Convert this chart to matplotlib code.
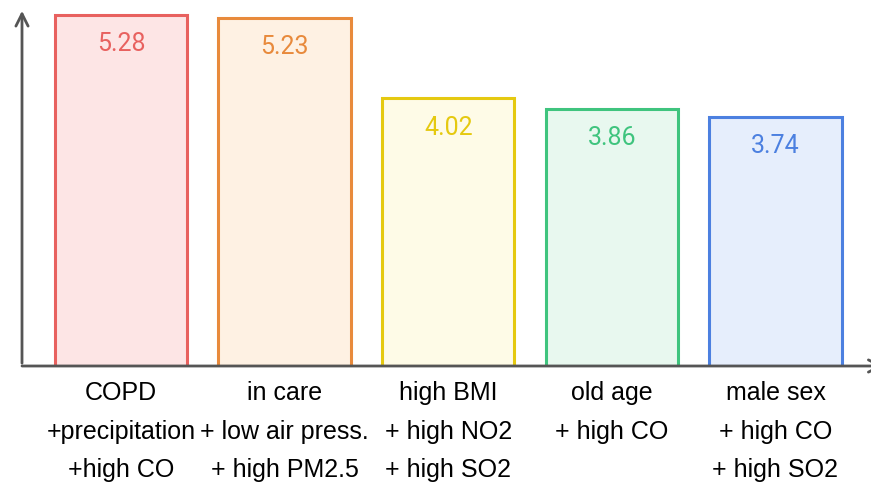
import matplotlib.pyplot as plt
import numpy as np

labels = ['COPD\n+precipitation\n+high CO',
          'in care\n+ low air press.\n+ high PM2.5',
          'high BMI\n+ high NO2\n+ high SO2',
          'old age\n+ high CO',
          'male sex\n+ high CO\n+ high SO2']
values = [5.28, 5.23, 4.02, 3.86, 3.74]
edge_colors = ['#e8615f', '#e88a3c', '#e5c910', '#3fc47e', '#4c80e0']
fill_colors = ['#fde5e5', '#fef1e3', '#fefbe7', '#e8f8ef', '#e6eefc']

fig = plt.figure(figsize=(8.71, 4.86), dpi=100)
ax = fig.add_axes([22 / 871, 120 / 486, 849 / 871, 358 / 486])

x = np.arange(len(values))
ax.bar(x, values, width=0.81, color=fill_colors, edgecolor=edge_colors, linewidth=2.2)

for xi, v, c in zip(x, values, edge_colors):
    ax.annotate(f'{v:.2f}', (xi, v), xytext=(0, -21), textcoords='offset points',
                ha='center', va='center', fontsize=18, color=c, family='Roboto')

ax.set_xlim(-0.605, 4.584)
ax.set_ylim(0, 5.38)
ax.set_xticks(x)
ax.set_xticklabels(labels, fontsize=18, family='Liberation Sans', linespacing=1.75)
ax.tick_params(axis='x', length=0, pad=11)
ax.set_yticks([])

for s in ['top', 'right', 'left', 'bottom']:
    ax.spines[s].set_visible(False)

# axis arrows
ax.annotate('', xy=(0, 1.0), xytext=(0, 0), xycoords='axes fraction',
            arrowprops=dict(arrowstyle='->', color='#555555', lw=2, mutation_scale=22),
            annotation_clip=False)
ax.annotate('', xy=(1.015, 0), xytext=(0, 0), xycoords='axes fraction',
            arrowprops=dict(arrowstyle='->', color='#555555', lw=2, mutation_scale=22,
                            shrinkA=0, shrinkB=0),
            annotation_clip=False)

fig.savefig('out.png', dpi=100)
